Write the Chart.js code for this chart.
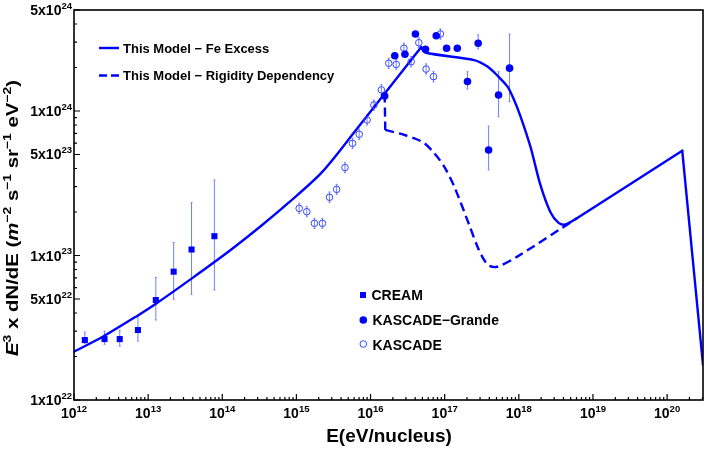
<!DOCTYPE html>
<html lang="en">
    <head>
        <meta charset="UTF-8">
        <title>Fe spectrum</title>
        <script src="https://cdn.jsdelivr.net/npm/chart.js@4.4.1/dist/chart.umd.min.js"></script>
        <style>
            html, body { margin: 0; padding: 0; background: #fff; }
            canvas { display: block; }
        </style>
    </head>
    <body>
        <canvas id="feChart" width="708" height="449"></canvas>
        <script>
            // CREAM (squares)
            const creamE  = [1.40e12, 2.58e12, 4.14e12, 7.28e12, 1.27e13, 2.21e13, 3.85e13, 7.83e13]
            const creamF  = [2.60e22, 2.64e22, 2.64e22, 3.05e22, 4.92e22, 7.73e22, 1.10e23, 1.36e23]
            const creamHi = [2.95e22, 2.99e22, 3.04e22, 3.77e22, 7.06e22, 1.23e23, 2.32e23, 3.33e23]
            const creamLo = [2.47e22, 2.43e22, 2.36e22, 2.56e22, 3.58e22, 4.98e22, 5.39e22, 5.77e22]

            // KASCADE (open circles)
            const kascadeE  = [1.09e15, 1.38e15, 1.75e15, 2.24e15, 2.79e15, 3.49e15, 4.52e15, 5.71e15, 7.03e15, 8.99e15,
                               1.11e16, 1.40e16, 1.76e16, 2.22e16, 2.82e16, 3.53e16, 4.48e16, 5.61e16, 7.06e16, 8.75e16]
            const kascadeF  = [2.12e23, 2.01e23, 1.67e23, 1.67e23, 2.53e23, 2.87e23, 4.06e23, 5.97e23, 6.90e23, 8.67e23,
                               1.10e24, 1.40e24, 2.14e24, 2.10e24, 2.72e24, 2.19e24, 2.97e24, 1.95e24, 1.73e24, 3.41e24]
            const kascadeHi = [2.30e23, 2.18e23, 1.81e23, 1.81e23, 2.75e23, 3.11e23, 4.41e23, 6.48e23, 7.49e23, 9.41e23,
                               1.19e24, 1.52e24, 2.32e24, 2.28e24, 2.95e24, 2.38e24, 3.22e24, 2.12e24, 1.88e24, 3.70e24]
            const kascadeLo = [1.95e23, 1.85e23, 1.54e23, 1.54e23, 2.33e23, 2.65e23, 3.74e23, 5.50e23, 6.36e23, 7.99e23,
                               1.01e24, 1.29e24, 1.97e24, 1.94e24, 2.51e24, 2.02e24, 2.74e24, 1.80e24, 1.59e24, 3.14e24]

            // KASCADE-Grande (filled circles)
            const grandeE  = [1.55e16, 2.12e16, 2.91e16, 4.03e16, 5.51e16, 7.69e16, 1.06e17, 1.48e17, 2.03e17, 2.83e17, 3.91e17, 5.33e17, 7.50e17]
            const grandeF  = [1.27e24, 2.41e24, 2.47e24, 3.41e24, 2.67e24, 3.32e24, 2.72e24, 2.72e24, 1.60e24, 2.94e24, 5.37e23, 1.29e24, 1.98e24]
            const grandeHi = [null, null, null, null, null, null, null, null, 1.87e24, 3.36e24, 7.87e23, 1.87e24, 3.41e24]
            const grandeLo = [null, null, null, null, null, null, null, null, 1.42e24, 2.69e24, 3.91e23, 9.14e23, 1.16e24]

            // model curves
            const feModelE = [1e12, 2.47e12, 7.28e12, 1.26e13, 3.85e13, 1.23e14, 3.42e14, 7.85e14, 2.20e15, 6.17e15,
                              4.81e16, 5.45e16, 2.50e17, 3.77e17, 5.13e17, 7.0e17, 8.41e17, 1.05e18, 1.44e18, 1.95e18,
                              2.66e18, 3.44e18, 4.23e18, 6.07e18, 1.60e20, 3.05e20]
            const feModelF = [2.16e22, 2.75e22, 3.85e22, 4.62e22, 6.92e22, 1.07e23, 1.62e23, 2.32e23, 3.76e23, 7.24e23,
                              2.76e24, 2.54e24, 2.25e24, 2.03e24, 1.76e24, 1.48e24, 1.23e24, 9.23e23, 5.62e23, 3.09e23,
                              2.00e23, 1.68e23, 1.64e23, 1.81e23, 5.31e23, 1.75e22]
            const rigModelE = [1.55e16, 1.58e16, 2.88e16, 3.93e16, 5.35e16, 7.28e16, 9.89e16, 1.35e17, 2.14e17, 2.77e17,
                               3.40e17, 3.98e17, 5.13e17, 9.53e17, 6.07e18]
            const rigModelF = [1.32e24, 7.40e23, 6.82e23, 6.46e23, 5.97e23, 5.09e23, 4.11e23, 2.99e23, 1.63e23, 1.15e23,
                               9.31e22, 8.49e22, 8.36e22, 9.82e22, 1.81e23]

            // axes
            const xDecades = [12, 13, 14, 15, 16, 17, 18, 19, 20]
            const yTicks = [1e22, 5e22, 1e23, 5e23, 1e24, 5e24]

            const FONT = '"Liberation Sans", Arial, Helvetica, sans-serif'
            const BLUE = '#0000ff'
            const OPEN = '#3545ff'
            const ERR = '#7080ff'

            const toPts = (xs, ys, from = 0, to = xs.length - 1) =>
                xs.slice(from, to + 1).map((v, i) => ({x: v, y: ys[from + i]}))

            // parts: [text, kind]  kind: '' plain, 'i' italic, 's' superscript
            function setFont(ctx, kind, size) {
                const sz = kind.includes('s') ? size * 0.68 : size
                ctx.font = (kind.includes('i') ? 'italic ' : '') + 'bold ' + sz + 'px ' + FONT
            }
            function richWidth(ctx, parts, size) {
                let w = 0
                for (const [t, k] of parts) { setFont(ctx, k, size); w += ctx.measureText(t).width }
                return w
            }
            function drawRich(ctx, parts, x, y, size) {
                let cx = x
                for (const [t, k] of parts) {
                    setFont(ctx, k, size)
                    ctx.fillText(t, cx, k.includes('s') ? y - size * 0.45 : y)
                    cx += ctx.measureText(t).width
                }
            }

            const errorBars = {
                id: 'errorBars',
                beforeDatasetsDraw(chart) {
                    const {ctx, chartArea: a, scales: {x, y}} = chart
                    ctx.save()
                    ctx.beginPath()
                    ctx.rect(a.left, a.top, a.right - a.left, a.bottom - a.top)
                    ctx.clip()
                    ctx.strokeStyle = ERR
                    ctx.lineWidth = 1
                    const sets = [[creamE, creamLo, creamHi], [kascadeE, kascadeLo, kascadeHi], [grandeE, grandeLo, grandeHi]]
                    for (const [es, los, his] of sets) {
                        es.forEach((e, i) => {
                            if (los[i] == null) return
                            const px = x.getPixelForValue(e)
                            const y1 = y.getPixelForValue(his[i])
                            const y2 = y.getPixelForValue(los[i])
                            ctx.beginPath()
                            ctx.moveTo(px, y1); ctx.lineTo(px, y2)
                            ctx.moveTo(px - 1, y1); ctx.lineTo(px + 1, y1)
                            ctx.moveTo(px - 1, y2); ctx.lineTo(px + 1, y2)
                            ctx.stroke()
                        })
                    }
                    ctx.restore()
                }
            }

            const frame = {
                id: 'frame',
                afterDraw(chart) {
                    const {ctx, chartArea: a, scales: {x, y}} = chart
                    const ds = chart.data.datasets
                    ctx.save()
                    ctx.strokeStyle = '#000'
                    ctx.fillStyle = '#000'
                    ctx.lineWidth = 1.6
                    ctx.strokeRect(a.left, a.top, a.right - a.left, a.bottom - a.top)

                    // ticks point inward
                    ctx.lineWidth = 1.2
                    ctx.beginPath()
                    xDecades.forEach(p => {
                        for (let m = 1; m < 10; m++) {
                            const v = m * Math.pow(10, p)
                            if (v > x.max) break
                            const px = x.getPixelForValue(v)
                            ctx.moveTo(px, a.bottom)
                            ctx.lineTo(px, a.bottom - (m === 1 ? 6 : 3))
                        }
                    })
                    for (let p = 22; p <= 24; p++) {
                        for (let m = 1; m < 10; m++) {
                            const v = m * Math.pow(10, p)
                            if (v > y.max * 1.001) break
                            const py = y.getPixelForValue(v)
                            ctx.moveTo(a.left, py)
                            ctx.lineTo(a.left + (m === 1 || m === 5 ? 6 : 3), py)
                        }
                    }
                    ctx.stroke()

                    // x tick labels
                    ctx.textBaseline = 'alphabetic'
                    xDecades.forEach(p => {
                        const parts = [['10', ''], [String(p), 's']]
                        const w = richWidth(ctx, parts, 14)
                        drawRich(ctx, parts, x.getPixelForValue(Math.pow(10, p)) - w / 2, a.bottom + 18, 14)
                    })
                    // y tick labels
                    yTicks.forEach(v => {
                        const p = Math.floor(Math.log10(v) + 1e-9)
                        const m = Math.round(v / Math.pow(10, p))
                        const parts = [[m + 'x10', ''], [String(p), 's']]
                        const w = richWidth(ctx, parts, 14)
                        drawRich(ctx, parts, a.left - 2 - w, y.getPixelForValue(v) + 5, 14)
                    })

                    // axis titles
                    const xt = [['E(eV/nucleus)', '']]
                    const xw = richWidth(ctx, xt, 19)
                    drawRich(ctx, xt, 389 - xw / 2, 442, 19)

                    const yt = [['E', 'i'], ['3', 's'], [' x dN/dE (', ''], ['m', 'i'], ['\u22122', 's'], [' s', ''], ['\u22121', 's'],
                                [' sr', ''], ['\u22121', 's'], [' eV', ''], ['\u22122', 's'], [')', '']]
                    const yw = richWidth(ctx, yt, 16)
                    ctx.save()
                    ctx.translate(18, 218)
                    ctx.rotate(-Math.PI / 2)
                    ctx.scale(276 / yw, 1)
                    drawRich(ctx, yt, -yw / 2, 0, 16)
                    ctx.restore()

                    // model legend (top left)
                    ctx.strokeStyle = BLUE
                    ctx.lineWidth = 2.4
                    ctx.beginPath(); ctx.moveTo(99, 48); ctx.lineTo(119, 48); ctx.stroke()
                    ctx.setLineDash([8, 4])
                    ctx.beginPath(); ctx.moveTo(99, 75.5); ctx.lineTo(119, 75.5); ctx.stroke()
                    ctx.setLineDash([])
                    ctx.font = 'bold 13px ' + FONT
                    ctx.fillText(ds[3].label, 123, 52.5)
                    ctx.fillText(ds[6].label, 123, 80)

                    // data legend
                    ctx.fillStyle = BLUE
                    ctx.fillRect(360, 292, 6, 6)
                    ctx.beginPath(); ctx.arc(363.3, 320, 3.8, 0, Math.PI * 2); ctx.fill()
                    ctx.strokeStyle = OPEN
                    ctx.lineWidth = 1
                    ctx.beginPath(); ctx.arc(363.3, 344, 3.3, 0, Math.PI * 2); ctx.stroke()
                    ctx.fillStyle = '#000'
                    ctx.font = 'bold 14px ' + FONT
                    ctx.fillText(ds[0].label, 371.5, 300)
                    ctx.fillText(ds[1].label, 372.5, 325)
                    ctx.fillText(ds[2].label, 372.5, 349.5)
                    ctx.restore()
                }
            }

            const modelLine = (label, pts, extra) => Object.assign({
                label: label,
                data: pts,
                showLine: true, pointRadius: 0,
                tension: 0.3,
                borderColor: BLUE, borderWidth: 2.4,
                borderJoinStyle: 'round', borderCapStyle: 'round'
            }, extra)

            const feLabel = 'This Model \u2212 Fe Excess'
            const rigLabel = 'This Model \u2212 Rigidity Dependency'

            new Chart(document.getElementById('feChart'), {
                type: 'scatter',
                data: {
                    datasets: [
                        {
                            label: 'CREAM',
                            data: toPts(creamE, creamF),
                            pointStyle: 'rect', pointRadius: 4.3,
                            backgroundColor: BLUE, borderColor: BLUE, borderWidth: 0,
                            order: 1
                        },
                        {
                            label: 'KASCADE\u2212Grande',
                            data: toPts(grandeE, grandeF),
                            pointStyle: 'circle', pointRadius: 3.8,
                            backgroundColor: BLUE, borderColor: BLUE, borderWidth: 0,
                            order: 0
                        },
                        {
                            label: 'KASCADE',
                            data: toPts(kascadeE, kascadeF),
                            pointStyle: 'circle', pointRadius: 3.3,
                            backgroundColor: 'rgba(0,0,0,0)', borderColor: OPEN, borderWidth: 1,
                            order: 2
                        },
                        // Fe excess: rise, fall and cutoff drawn as pieces so the corners stay sharp
                        modelLine(feLabel, toPts(feModelE, feModelF, 0, 10), {order: 3}),
                        modelLine(feLabel, toPts(feModelE, feModelF, 10, 24), {order: 3}),
                        modelLine(feLabel, toPts(feModelE, feModelF, 24, 25), {order: 3}),
                        modelLine(rigLabel, toPts(rigModelE, rigModelF, 0, 1), {borderDash: [9, 5], borderCapStyle: 'butt', order: 4}),
                        modelLine(rigLabel, toPts(rigModelE, rigModelF, 1), {borderDash: [9, 5], borderCapStyle: 'butt', order: 4})
                    ]
                },
                options: {
                    responsive: false,
                    animation: false,
                    events: [],
                    layout: {padding: {left: 0, right: 1, top: 10, bottom: 0}},
                    plugins: {legend: {display: false}, tooltip: {enabled: false}},
                    scales: {
                        x: {
                            type: 'logarithmic', min: 1e12, max: 3.05e20,
                            ticks: {display: false}, grid: {display: false}, border: {display: false},
                            afterFit: s => { s.height = 49 }
                        },
                        y: {
                            type: 'logarithmic', min: 1e22, max: 5e24,
                            ticks: {display: false}, grid: {display: false}, border: {display: false},
                            afterFit: s => { s.width = 74 }
                        }
                    }
                },
                plugins: [errorBars, frame]
            })
        </script>
    </body>
</html>
